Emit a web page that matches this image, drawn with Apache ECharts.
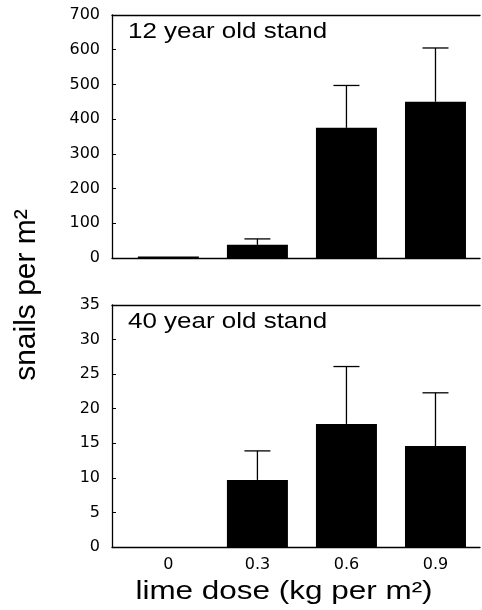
<!DOCTYPE html>
<html><head><meta charset="utf-8">
<script src="https://cdn.jsdelivr.net/npm/echarts@6/dist/echarts.min.js"></script>
<style>html,body{margin:0;padding:0;background:#fff}#c{width:482px;height:610px}</style>
</head><body><div id="c"></div>
<script>
const doses = [0, 0.3, 0.6, 0.9];
const doseLabels = ['0', '0.3', '0.6', '0.9'];
const stand12Mean = [4, 38, 375, 450];
const stand12Upper = [4, 55, 497, 605];
const stand40Mean = [0, 9.7, 17.8, 14.6];
const stand40Upper = [0, 13.9, 26.1, 22.3];
const ticks12 = [0, 100, 200, 300, 400, 500, 600, 700];
const ticks40 = [0, 5, 10, 15, 20, 25, 30, 35];

const FONT = '"Liberation Sans", Arial, Helvetica, sans-serif';
const TICKFONT = '"DejaVu Sans", "Liberation Sans", sans-serif';
const chart = echarts.init(document.getElementById('c'), null, {renderer: 'canvas'});

function errSeries(idx, means, uppers) {
  return {
    type: 'custom', xAxisIndex: idx, yAxisIndex: idx, z: 5,
    data: doses.map((d, i) => [d, means[i], uppers[i]]),
    renderItem: function (params, api) {
      const x = api.value(0), m = api.value(1), u = api.value(2);
      if (u <= m) return null;
      const p0 = api.coord([x, m]);
      const p1 = api.coord([x, u]);
      const hw = 13;
      return {
        type: 'group',
        children: [
          {type: 'line', shape: {x1: p0[0], y1: p0[1], x2: p1[0], y2: p1[1]}, style: {stroke: '#000', lineWidth: 1.3}},
          {type: 'line', shape: {x1: p1[0] - hw, y1: p1[1], x2: p1[0] + hw, y2: p1[1]}, style: {stroke: '#000', lineWidth: 1.3}}
        ]
      };
    }
  };
}

const XMIN = -0.19, XMAX = 1.05;
function xAx(gi, showLabels) {
  return {
    type: 'value', gridIndex: gi, min: XMIN, max: XMAX,
    axisLine: {show: true, onZero: false, lineStyle: {color: '#000', width: 1.3}},
    axisTick: {show: false},
    splitLine: {show: false},
    axisLabel: {
      show: showLabels, customValues: doses, margin: 10,
      formatter: v => doseLabels[doses.indexOf(Math.round(v * 10) / 10)] ?? '',
      color: '#000', fontSize: 16, fontFamily: TICKFONT
    }
  };
}
function topAx(gi) {
  return {
    type: 'value', gridIndex: gi, position: 'top', min: XMIN, max: XMAX,
    axisLine: {show: true, onZero: false, lineStyle: {color: '#000', width: 1.3}},
    axisTick: {show: false}, axisLabel: {show: false}, splitLine: {show: false}
  };
}
function yAx(gi, ticks) {
  return {
    type: 'value', gridIndex: gi, min: ticks[0], max: ticks[ticks.length - 1],
    interval: ticks[1] - ticks[0],
    axisLine: {show: true, onZero: false, lineStyle: {color: '#000', width: 1.3}},
    axisTick: {show: true, length: 4, inside: true, lineStyle: {color: '#000', width: 1}},
    splitLine: {show: false},
    axisLabel: {color: '#000', fontSize: 16, fontFamily: TICKFONT, margin: 12}
  };
}

chart.setOption({
  animation: false,
  backgroundColor: '#fff',
  grid: [
    {left: 112, right: 2, top: 15, height: 243},
    {left: 112, right: 2, top: 305, height: 242}
  ],
  xAxis: [xAx(0, false), xAx(1, true), topAx(0), topAx(1)],
  yAxis: [yAx(0, ticks12), yAx(1, ticks40)],
  graphic: [
    {type: 'text', x: 128, y: 32, scaleX: 1.18,
      style: {text: '12 year old stand', font: '22px ' + FONT, fill: '#000', align: 'left', verticalAlign: 'middle'}},
    {type: 'text', x: 128, y: 322, scaleX: 1.18,
      style: {text: '40 year old stand', font: '22px ' + FONT, fill: '#000', align: 'left', verticalAlign: 'middle'}},
    {type: 'text', x: 27, y: 295, rotation: Math.PI / 2,
      style: {text: 'snails per m²', font: '30px ' + FONT, fill: '#000', align: 'center', verticalAlign: 'middle'}},
    {type: 'text', x: 284, y: 592, scaleX: 1.21,
      style: {text: 'lime dose (kg per m²)', font: '26px ' + FONT, fill: '#000', align: 'center', verticalAlign: 'middle'}}
  ],
  series: [
    {type: 'bar', xAxisIndex: 0, yAxisIndex: 0, barWidth: 61, itemStyle: {color: '#000'},
      data: doses.map((d, i) => [d, stand12Mean[i]])},
    {type: 'bar', xAxisIndex: 1, yAxisIndex: 1, barWidth: 61, itemStyle: {color: '#000'},
      data: doses.map((d, i) => [d, stand40Mean[i]])},
    errSeries(0, stand12Mean, stand12Upper),
    errSeries(1, stand40Mean, stand40Upper)
  ]
});
</script></body></html>
